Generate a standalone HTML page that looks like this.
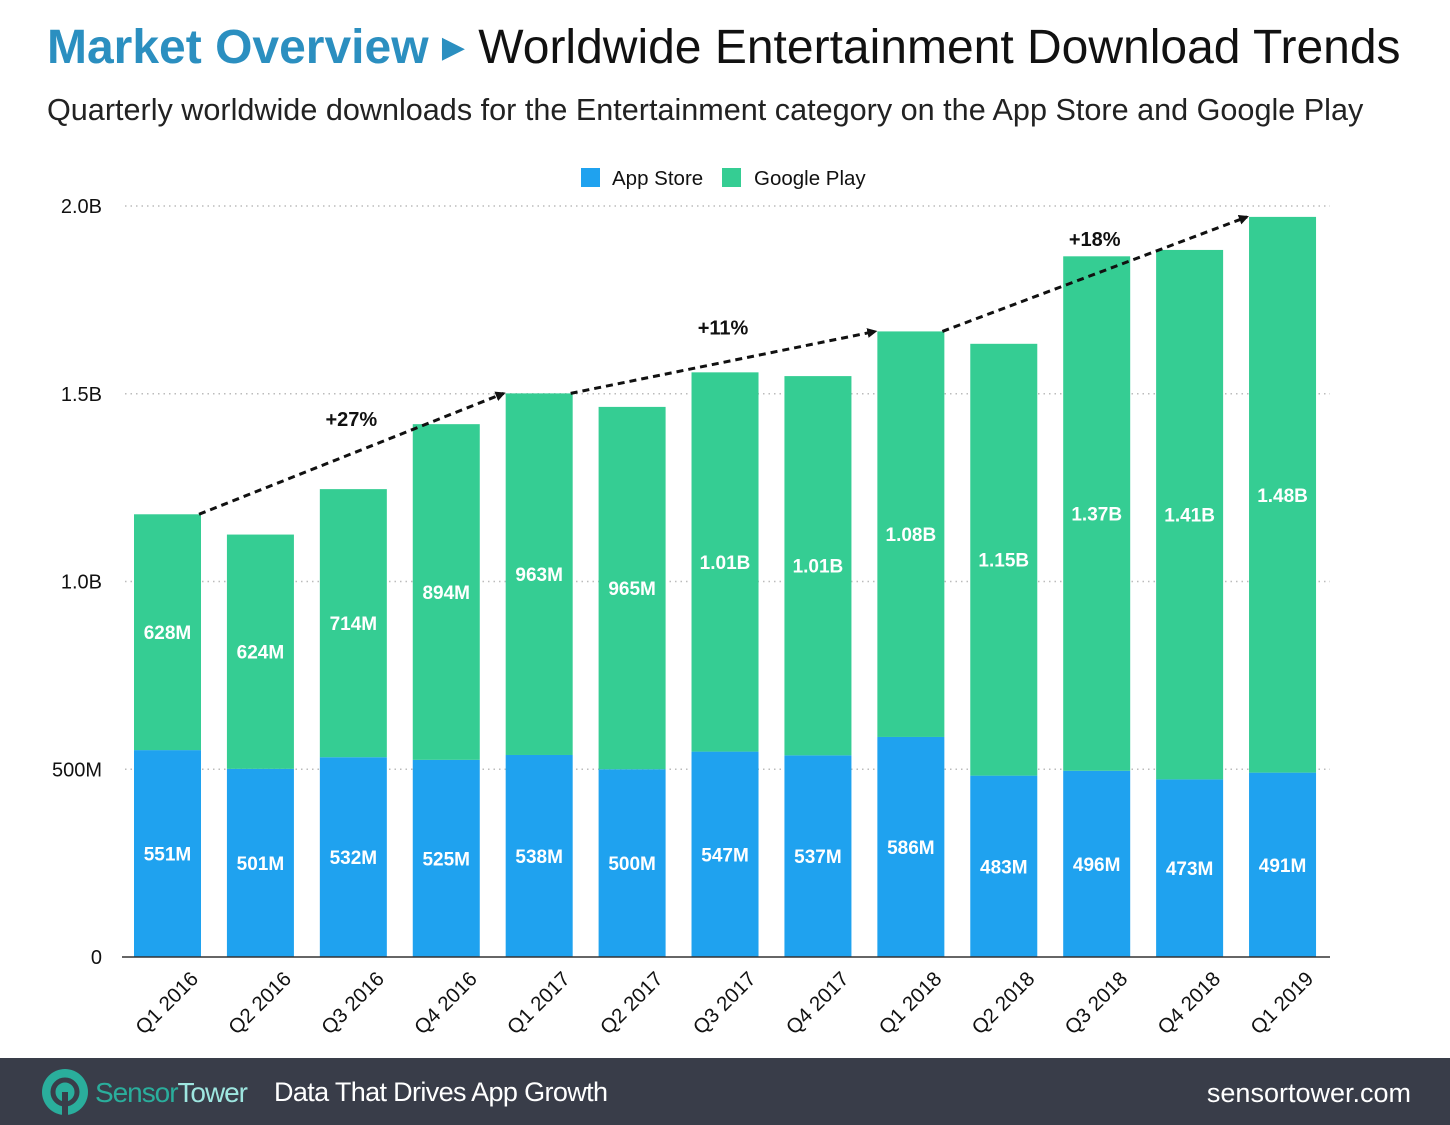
<!DOCTYPE html>
<html><head><meta charset="utf-8"><style>
body{margin:0;width:1450px;height:1125px;background:#fff;font-family:"Liberation Sans",sans-serif;overflow:hidden;position:relative}
#title{position:absolute;left:47px;top:20px;font-size:48px;white-space:nowrap;color:#111}
#title .mo{color:#2b8fc0;font-weight:bold}
#sub{position:absolute;left:47px;top:93px;font-size:30.6px;color:#222;white-space:nowrap}
#footer{position:absolute;left:0;top:1058px;width:1450px;height:67px;background:#393d49}
svg{position:absolute;left:0;top:0}
</style></head><body>
<div id="title"><span class="mo">Market Overview</span> <span style="color:#2b8fc0;font-size:30px;vertical-align:6px">&#9654;</span> Worldwide Entertainment Download Trends</div>
<div id="sub">Quarterly worldwide downloads for the Entertainment category on the App Store and Google Play</div>
<svg id="chart" width="1450" height="1060"></svg>
<div id="footer">
<svg width="1450" height="67" style="position:absolute;left:0;top:0">
<circle cx="65" cy="34" r="23" fill="#2aae9c"/>
<circle cx="65" cy="34" r="12" fill="none" stroke="#393d49" stroke-width="5"/>
<rect x="62" y="34" width="6" height="24" fill="#393d49"/>
<text x="95" y="44" font-size="28" fill="#2aae9c" textLength="153">Sensor<tspan fill="#9ee6e0">Tower</tspan></text>
<text x="274" y="43" font-size="27" fill="#fff" textLength="334">Data That Drives App Growth</text>
<text x="1411" y="44" font-size="27" fill="#fff" text-anchor="end">sensortower.com</text>
</svg></div>
<script>
const categories=["Q1 2016","Q2 2016","Q3 2016","Q4 2016","Q1 2017","Q2 2017","Q3 2017","Q4 2017","Q1 2018","Q2 2018","Q3 2018","Q4 2018","Q1 2019"];
const appStore=[551,501,532,525,538,500,547,537,586,483,496,473,491];
const googlePlay=[628,624,714,894,963,965,1010,1010,1080,1150,1370,1410,1480];
const appLabels=["551M","501M","532M","525M","538M","500M","547M","537M","586M","483M","496M","473M","491M"];
const gpLabels=["628M","624M","714M","894M","963M","965M","1.01B","1.01B","1.08B","1.15B","1.37B","1.41B","1.48B"];
const yTicks=[0,500,1000,1500,2000];
const yTickLabels=["0","500M","1.0B","1.5B","2.0B"];
const growthFrom=[0,4,8];
const growthTo=[4,8,12];
const growthLabels=["+27%","+11%","+18%"];

const NS="http://www.w3.org/2000/svg";
const svg=document.getElementById('chart');
function y(v){return 957-v*0.3755;}
function x(i){return 134+i*92.92;}
const BW=67;
function mk(tag,attrs,parent){const e=document.createElementNS(NS,tag);for(const k in attrs)e.setAttribute(k,attrs[k]);(parent||svg).appendChild(e);return e;}
const defs=mk('defs',{});
const m=mk('marker',{id:'ah',markerWidth:10,markerHeight:10,refX:8,refY:5,orient:'auto',markerUnits:'userSpaceOnUse'},defs);
mk('path',{d:'M0,0 L10,5 L0,10 Z',fill:'#111'},m);
yTicks.forEach((t,i)=>{
  if(t>0){const g=mk('line',{x1:125,x2:1330,y1:y(t),y2:y(t),stroke:'#bbb','stroke-width':1.5,'stroke-dasharray':'1.5 4'});
  
  }
  const tl=mk('text',{x:102,y:y(t)+7,'text-anchor':'end','font-size':20,fill:'#111'});
  tl.textContent=yTickLabels[i];
  
  
});
const l1=mk('rect',{x:581,y:168,width:19,height:19,fill:'#1fa2ef'});


const lt1=mk('text',{x:612,y:185,'font-size':20.5,fill:'#111'});lt1.textContent='App Store';


const l2=mk('rect',{x:722,y:168,width:19,height:19,fill:'#35cd93'});


const lt2=mk('text',{x:754,y:185,'font-size':20.5,fill:'#111'});lt2.textContent='Google Play';


categories.forEach((c,i)=>{
  const a=appStore[i],g=googlePlay[i];
  const rb=mk('rect',{x:x(i),y:y(a),width:BW,height:y(0)-y(a),fill:'#1fa2ef'});
  
  
  const rg=mk('rect',{x:x(i),y:y(a+g),width:BW,height:y(a)-y(a+g),fill:'#35cd93'});
  
  
  const ta=mk('text',{x:x(i)+BW/2,y:(y(0)+y(a))/2+7,'text-anchor':'middle','font-size':19,'font-weight':'bold',fill:'#fff'});
  ta.textContent=appLabels[i];
  
  
  const tg=mk('text',{x:x(i)+BW/2,y:(y(a)+y(a+g))/2+7,'text-anchor':'middle','font-size':19,'font-weight':'bold',fill:'#fff'});
  tg.textContent=gpLabels[i];
  
  
  const cx=x(i)+BW/2+32, cy=980;
  const xl=mk('text',{x:cx,y:cy,'text-anchor':'end','font-size':20.5,fill:'#111',transform:`rotate(-45 ${cx} ${cy})`});
  xl.textContent=c;
  
  
});
const ax=mk('line',{x1:122,x2:1330,y1:957,y2:957,stroke:'#333','stroke-width':1.5});


growthFrom.forEach((f,k)=>{
  const t=growthTo[k];
  const x1=x(f)+BW-2,y1=y(appStore[f]+googlePlay[f]);
  const x2=x(t)-2,y2=y(appStore[t]+googlePlay[t]);
  const ln=mk('line',{x1:x1,y1:y1,x2:x2,y2:y2,stroke:'#111','stroke-width':3,'stroke-dasharray':'7 5','marker-end':'url(#ah)'});
  
  
  const mx=(x1+x2)/2,my=(y1+y2)/2;
  const tl=mk('text',{x:mx,y:my-28,'text-anchor':'middle','font-size':20,'font-weight':'bold',fill:'#111'});
  tl.textContent=growthLabels[k];
  
  
});
</script>
</body></html>
